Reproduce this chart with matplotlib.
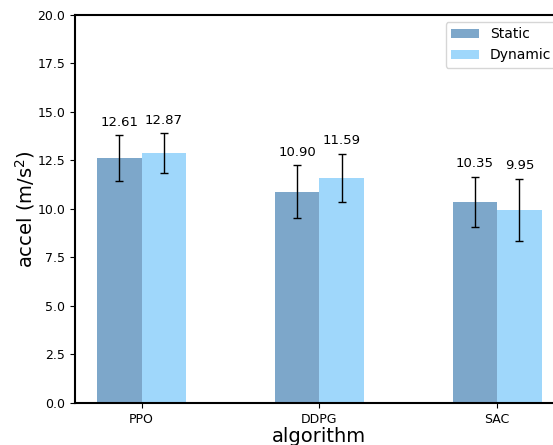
import numpy as np
import matplotlib.pyplot as plt

algorithms = ['PPO', 'DDPG', 'SAC']
static_vals = [12.61, 10.90, 10.35]
static_err = [1.18, 1.35, 1.30]
dynamic_vals = [12.87, 11.59, 9.95]
dynamic_err = [1.03, 1.24, 1.60]

fig = plt.figure(figsize=(5.53, 4.45), dpi=100)
ax = fig.add_axes([0.1356, 0.0944, 0.884, 0.872])

x = np.arange(len(algorithms))
w = 0.25
ax.bar(x - w/2, static_vals, w, yerr=static_err, color='steelblue', alpha=0.7,
       capsize=3, error_kw=dict(ecolor='black', elinewidth=1, capthick=1), label='Static')
ax.bar(x + w/2, dynamic_vals, w, yerr=dynamic_err, color='lightskyblue', alpha=0.8,
       capsize=3, error_kw=dict(ecolor='black', elinewidth=1, capthick=1), label='Dynamic')

for i in range(len(algorithms)):
    ax.text(x[i] - w/2, static_vals[i] + static_err[i] + 0.35, '%.2f' % static_vals[i],
            ha='center', va='bottom', fontsize=9.5)
    ax.text(x[i] + w/2, dynamic_vals[i] + dynamic_err[i] + 0.35, '%.2f' % dynamic_vals[i],
            ha='center', va='bottom', fontsize=9.5)

ax.set_ylim(0, 20)
ax.set_yticks(np.arange(0, 20.1, 2.5))
ax.set_xticks(x)
ax.set_xticklabels(algorithms)
ax.tick_params(labelsize=9)
ax.set_xlabel('algorithm', fontsize=14, labelpad=1)
ax.set_ylabel('accel (m/s$^2$)', fontsize=14, labelpad=0)
for s in ax.spines.values():
    s.set_linewidth(1.5)
ax.spines['right'].set_visible(False)
ax.legend(loc='upper right', fontsize=10)

plt.savefig('out.png', dpi=100)
